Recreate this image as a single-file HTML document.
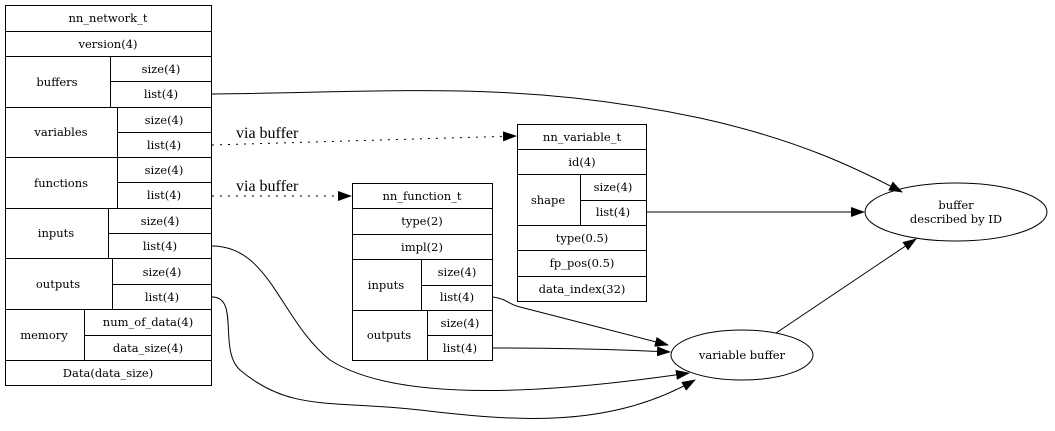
<!DOCTYPE html>
<html><head><meta charset="utf-8"><style>
body{margin:0;background:#fff}
</style></head><body>
<svg width="1055" height="426" viewBox="0 0 1055 426" xmlns="http://www.w3.org/2000/svg" font-family="'DejaVu Serif', serif">
<defs><marker id="a" markerWidth="14" markerHeight="10" refX="13" refY="5" orient="auto" markerUnits="userSpaceOnUse"><path d="M0,0 L14,5 L0,10 Z" fill="#000"/></marker></defs>
<g fill="none" stroke="#000" stroke-width="1">
<rect x="5.5" y="5.5" width="206" height="380"/>
<path d="M5.5,31.5H211.5M5.5,56.5H211.5M110.5,81.5H211.5M5.5,107.5H211.5M117.5,132.5H211.5M5.5,157.5H211.5M117.5,182.5H211.5M5.5,208.5H211.5M108.5,233.5H211.5M5.5,258.5H211.5M112.5,284.5H211.5M5.5,309.5H211.5M84.5,335.5H211.5M5.5,360.5H211.5"/>
<path d="M110.5,56.5V107.5M117.5,107.5V208.5M108.5,208.5V258.5M112.5,258.5V309.5M84.5,309.5V360.5"/>
<rect x="352.5" y="183.5" width="140" height="177"/>
<path d="M352.5,208.5H492.5M352.5,234.5H492.5M352.5,259.5H492.5M421.5,285.5H492.5M352.5,310.5H492.5M427.5,335.5H492.5M421.5,259.5V310.5M427.5,310.5V360.5"/>
<rect x="517.5" y="124.5" width="129" height="177"/>
<path d="M517.5,149.5H646.5M517.5,174.5H646.5M580.5,200.5H646.5M517.5,225.5H646.5M517.5,250.5H646.5M517.5,276.5H646.5M580.5,174.5V225.5"/>
<ellipse cx="956" cy="212" rx="91" ry="29"/>
<ellipse cx="742" cy="355" rx="71" ry="25"/>
<path d="M212,94 C400,92 520,80 700,118 C800,140 860,170 902,192" marker-end="url(#a)"/>
<path d="M212,145 L516,136" stroke-dasharray="2,6" marker-end="url(#a)"/>
<path d="M212,196 L351,196" stroke-dasharray="2,6" marker-end="url(#a)"/>
<path d="M212,246 C270,246 280,320 330,360 C400,405 560,392 689,373" marker-end="url(#a)"/>
<path d="M212,297 C240,297 218,350 240,370 C290,412 330,400 420,410 C520,422 610,428 695,380" marker-end="url(#a)"/>
<path d="M493,297 C510,300 505,303 520,307 L668,345" marker-end="url(#a)"/>
<path d="M493,348 C560,348 610,349 670,352" marker-end="url(#a)"/>
<path d="M647,212 L864,212" marker-end="url(#a)"/>
<path d="M776,333 L916,239" marker-end="url(#a)"/>
</g>
<g text-anchor="middle" font-size="11.5" fill="#000">
<text x="108" y="22">nn_network_t</text>
<text x="108" y="48">version(4)</text>
<text x="57" y="86">buffers</text><text x="161" y="73">size(4)</text><text x="161" y="98">list(4)</text>
<text x="61" y="136">variables</text><text x="164" y="124">size(4)</text><text x="164" y="149">list(4)</text>
<text x="61" y="187">functions</text><text x="164" y="174">size(4)</text><text x="164" y="199">list(4)</text>
<text x="56" y="237">inputs</text><text x="160" y="225">size(4)</text><text x="160" y="250">list(4)</text>
<text x="58" y="288">outputs</text><text x="162" y="276">size(4)</text><text x="162" y="301">list(4)</text>
<text x="44" y="339">memory</text><text x="148" y="326">num_of_data(4)</text><text x="148" y="352">data_size(4)</text>
<text x="108" y="377">Data(data_size)</text>
<text x="422" y="200">nn_function_t</text>
<text x="422" y="225">type(2)</text>
<text x="422" y="251">impl(2)</text>
<text x="386" y="289">inputs</text><text x="457" y="276">size(4)</text><text x="457" y="301">list(4)</text>
<text x="389" y="339">outputs</text><text x="460" y="327">size(4)</text><text x="460" y="352">list(4)</text>
<text x="582" y="141">nn_variable_t</text>
<text x="582" y="166">id(4)</text>
<text x="548" y="204">shape</text><text x="613" y="191">size(4)</text><text x="613" y="216">list(4)</text>
<text x="582" y="242">type(0.5)</text>
<text x="582" y="267">fp_pos(0.5)</text>
<text x="582" y="293">data_index(32)</text>
<text x="956" y="209">buffer</text>
<text x="956" y="223">described by ID</text>
<text x="742" y="359">variable buffer</text>
</g>
<g font-size="16" fill="#000" font-family="'Liberation Serif', serif">
<text x="236" y="138">via buffer</text>
<text x="236" y="191">via buffer</text>
</g>
</svg>
</body></html>
